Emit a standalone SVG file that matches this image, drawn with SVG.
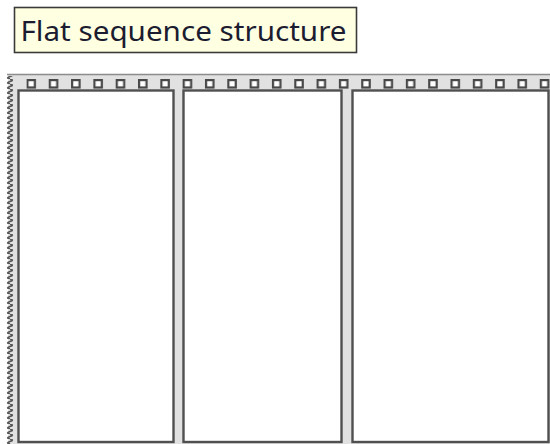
<svg xmlns="http://www.w3.org/2000/svg" width="550" height="444" viewBox="0 0 550 444">
  <style>
    .frame-bg { fill: #e1e1e1; }
    .frame-top { stroke: #8c8c8c; stroke-width: 1.6; fill: none; }
    .panel { fill: #ffffff; stroke: #505050; stroke-width: 2.4; }
    .label-box { fill: #ffffe1; stroke: #3a3a3a; stroke-width: 1.6; }
    .label-text { font-family: "Noto Sans", "Open Sans", "DejaVu Sans", sans-serif; font-size: 28px; fill: #1c1c30; }
  </style>
  <defs>
    <!-- sprocket holes along the top band -->
    <pattern id="holes" patternUnits="userSpaceOnUse" x="26.4" y="79" width="22.32" height="10">
      <rect x="1.1" y="1.1" width="7.4" height="7.4" fill="#ffffff" stroke="#484848" stroke-width="2.2"/>
    </pattern>
    <!-- torn / wavy left edge of the frame -->
    <pattern id="wave" patternUnits="userSpaceOnUse" x="0" y="74" width="16" height="5">
      <path d="M10,0 Q14.5,1.25 10,2.5 Q5.5,3.75 10,5" fill="none" stroke="#555555" stroke-width="1.8"/>
    </pattern>
  </defs>

  <!-- caption -->
  <g id="label">
    <rect class="label-box" x="14.5" y="7.5" width="342" height="45"/>
    <text class="label-text" x="20.5" y="41" textLength="326" lengthAdjust="spacingAndGlyphs">Flat sequence structure</text>
  </g>

  <!-- film-strip frame -->
  <g id="frame">
    <rect class="frame-bg" x="8" y="74" width="542" height="370"/>
    <line class="frame-top" x1="7" y1="74.5" x2="550" y2="74.5"/>
    <rect x="26.4" y="79" width="523.6" height="10" fill="url(#holes)"/>
    <rect x="4" y="76" width="12" height="368" fill="url(#wave)"/>
  </g>

  <g id="panel-1">
    <rect class="panel" x="18.5" y="90.5" width="155" height="351.5"/>
  </g>
  <g id="panel-2">
    <rect class="panel" x="183.5" y="90.5" width="158" height="351.5"/>
  </g>
  <g id="panel-3">
    <rect class="panel" x="352.5" y="90.5" width="196" height="351.5"/>
  </g>
</svg>
